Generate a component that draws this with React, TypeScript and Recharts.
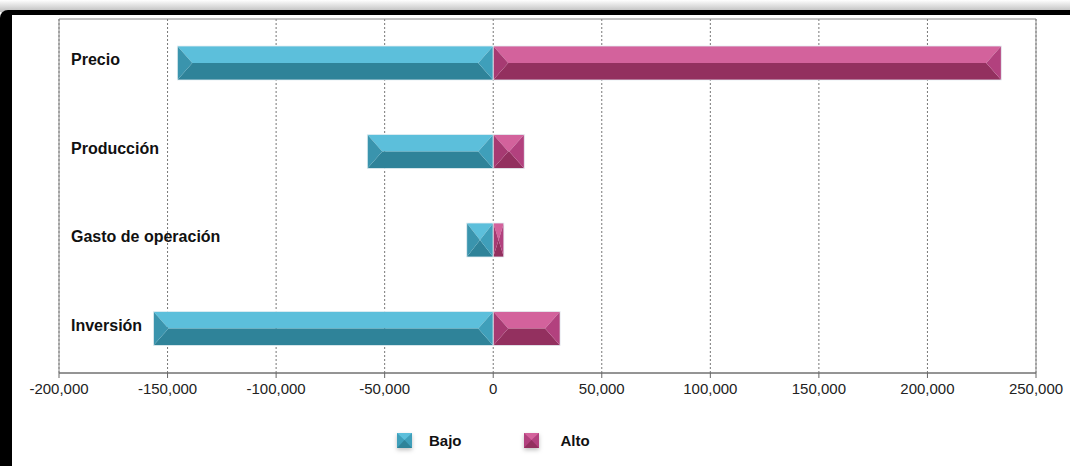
import { Bar, BarChart, CartesianGrid, ReferenceArea, XAxis, YAxis } from "recharts";

const categories = ["Precio", "Producción", "Gasto de operación", "Inversión"];
const bajo = [-145500, -58000, -12200, -156500];
const alto = [234000, 14300, 4900, 30800];
const xTicks = [-200000, -150000, -100000, -50000, 0, 50000, 100000, 150000, 200000, 250000];

const data = categories.map((name, i) => ({ name, bajo: bajo[i], alto: alto[i] }));

type Tone = { light: string; mid: string; dark: string; side: string };

const TEAL: Tone = { light: "#5cbfdb", mid: "#3f9fba", dark: "#2f8399", side: "#3a94ad" };
const MAGENTA: Tone = { light: "#d3629c", mid: "#b2417e", dark: "#93305f", side: "#a63a72" };

function bevelShape(tone: Tone) {
  return (props: any) => {
    let { x, y, width, height } = props;
    if (width == null || height == null) return <g />;
    if (width < 0) {
      x += width;
      width = -width;
    }
    if (height < 0) {
      y += height;
      height = -height;
    }
    if (width <= 0) return <g />;
    const b = Math.min(15, width / 2, height / 2);
    const my = y + height / 2;
    const r = x + width;
    const btm = y + height;
    return (
      <g>
        <polygon points={`${x},${y} ${r},${y} ${r - b},${my} ${x + b},${my}`} fill={tone.light} />
        <polygon points={`${x},${btm} ${r},${btm} ${r - b},${my} ${x + b},${my}`} fill={tone.dark} />
        <polygon points={`${x},${y} ${x + b},${my} ${x},${btm}`} fill={tone.side} />
        <polygon points={`${r},${y} ${r - b},${my} ${r},${btm}`} fill={tone.mid} />
        <rect x={x} y={y} width={width} height={height} fill="none" stroke="#e4eef2" strokeWidth={0.8} />
      </g>
    );
  };
}

// etiquetas de categoría dentro del área del gráfico
function renderCategoryTick(props: any) {
  const { y, payload } = props;
  return (
    <text x={71} y={y - 3} dy={5} textAnchor="start" fontSize={16} fontWeight="bold" fill="#111">
      {payload.value}
    </text>
  );
}

function LegendIcon({ tone }: { tone: Tone }) {
  return (
    <svg width={15} height={15} style={{ display: "block", filter: "drop-shadow(0 2px 2px rgba(0,0,0,0.25))" }}>
      <rect x={0} y={0} width={15} height={15} fill={tone.mid} />
      <polygon points="0,0 15,0 7.5,7" fill={tone.light} />
      <polygon points="0,15 15,15 7.5,7" fill={tone.dark} />
    </svg>
  );
}

const fmt = (v: number) => v.toLocaleString("en-US");

export default function App() {
  return (
    <div
      style={{
        position: "absolute",
        left: 0,
        top: 0,
        width: 1070,
        height: 466,
        background: "#fff",
        fontFamily: "'Liberation Sans', Arial, sans-serif",
        overflow: "hidden",
      }}
    >
      {/* marco de ventana */}
      <div
        style={{
          position: "absolute",
          left: 0,
          top: 0,
          width: 1070,
          height: 12,
          background: "linear-gradient(#fff, #bbb)",
        }}
      />
      <div
        style={{
          position: "absolute",
          left: 0,
          top: 10,
          width: 1080,
          height: 480,
          borderTop: "5px solid #000",
          borderLeft: "12px solid #000",
          borderTopLeftRadius: 8,
          boxSizing: "border-box",
        }}
      />
      <div style={{ position: "absolute", left: 0, top: 0 }}>
        <BarChart
          width={1070}
          height={466}
          data={data}
          layout="vertical"
          stackOffset="sign"
          margin={{ top: 19, right: 34, left: 58, bottom: 63 }}
          barSize={34}
        >
          <CartesianGrid horizontal={false} vertical stroke="#777" strokeDasharray="2 2" />
          <ReferenceArea x1={-200000} x2={250000} fill="none" stroke="#888" strokeWidth={1} />
          <XAxis
            type="number"
            domain={[-200000, 250000]}
            ticks={xTicks}
            tickFormatter={fmt}
            tick={{ fontSize: 15, fill: "#222", dy: 3 }}
            axisLine={{ stroke: "#666" }}
            tickLine={{ stroke: "#666" }}
            tickSize={5}
            height={30}
            interval={0}
          />
          <YAxis
            type="category"
            dataKey="name"
            width={1}
            axisLine={false}
            tickLine={false}
            interval={0}
            tick={renderCategoryTick}
          />
          <Bar dataKey="bajo" stackId="s" shape={bevelShape(TEAL)} isAnimationActive={false} />
          <Bar dataKey="alto" stackId="s" shape={bevelShape(MAGENTA)} isAnimationActive={false} />
        </BarChart>
      </div>
      <div
        style={{
          position: "absolute",
          top: 432,
          left: 397,
          display: "flex",
          alignItems: "center",
          fontSize: 15,
          fontWeight: "bold",
          color: "#111",
        }}
      >
        <LegendIcon tone={TEAL} />
        <span style={{ marginLeft: 17 }}>Bajo</span>
        <span style={{ marginLeft: 62 }}>
          <LegendIcon tone={MAGENTA} />
        </span>
        <span style={{ marginLeft: 22 }}>Alto</span>
      </div>
    </div>
  );
}
